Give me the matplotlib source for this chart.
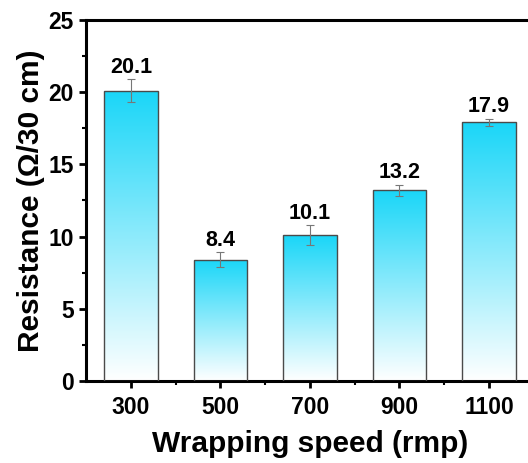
import matplotlib
matplotlib.use("Agg")
import matplotlib.pyplot as plt
import numpy as np
from matplotlib.colors import LinearSegmentedColormap

speeds = [300, 500, 700, 900, 1100]
resistance = [20.1, 8.4, 10.1, 13.2, 17.9]
errors = [0.8, 0.5, 0.7, 0.4, 0.25]
labels = ["20.1", "8.4", "10.1", "13.2", "17.9"]

plt.rcParams['font.family'] = ['Liberation Sans', 'DejaVu Sans']
plt.rcParams['font.weight'] = 'bold'

fig = plt.figure(figsize=(5.28, 4.63), dpi=100)
ax = fig.add_axes([0.163, 0.177, 0.848, 0.78])

cmap = LinearSegmentedColormap.from_list("cy", ["#ffffff", "#1ad6f8"])
bars = ax.bar(speeds, resistance, width=120, color='none', edgecolor='#4a4a4a', linewidth=1.0, zorder=3)
grad = np.linspace(0, 1, 256).reshape(-1, 1)
for b in bars:
    x0, y0 = b.get_x(), b.get_y()
    w, h = b.get_width(), b.get_height()
    im = ax.imshow(grad, cmap=cmap, origin='lower', aspect='auto',
                   extent=[x0, x0 + w, y0, y0 + h], zorder=2)
    im.set_clip_path(b)

ax.errorbar(speeds, resistance, yerr=errors, fmt='none', ecolor='#777777',
            elinewidth=0.8, capsize=3, capthick=0.8, zorder=4)

for x, y, e, t in zip(speeds, resistance, errors, labels):
    ax.text(x, y + e + 0.45, t, ha='center', va='baseline', fontsize=15.5, fontweight='bold')

ax.set_xlim(200, 1200)
ax.set_ylim(0, 25)
ax.set_xticks(speeds)
ax.set_xticks([400, 600, 800, 1000], minor=True)
ax.set_yticks([0, 5, 10, 15, 20, 25])
ax.set_yticks([2.5, 7.5, 12.5, 17.5, 22.5], minor=True)
ax.tick_params(axis='both', which='major', labelsize=16.5, width=2, length=5, direction='out')
ax.tick_params(axis='x', which='major', pad=6)
ax.tick_params(axis='y', which='major', pad=4)
ax.tick_params(axis='both', which='minor', width=1.5, length=3, direction='out')
for lab in ax.get_xticklabels() + ax.get_yticklabels():
    lab.set_fontweight('bold')

for s in ['left', 'bottom', 'top']:
    ax.spines[s].set_linewidth(2.2)
ax.spines['right'].set_visible(False)

ax.set_xlabel("Wrapping speed (rmp)", fontsize=21.5, fontweight='bold', labelpad=8)
ax.set_ylabel("Resistance (Ω/30 cm)", fontsize=21.5, fontweight='bold', labelpad=2)

fig.savefig("out.png", dpi=100)
